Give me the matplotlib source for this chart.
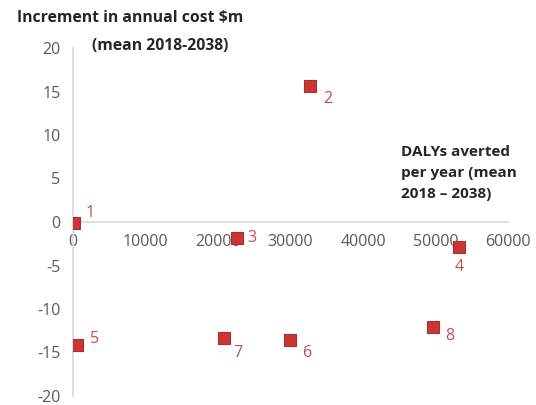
import matplotlib
matplotlib.use("Agg")
import matplotlib.pyplot as plt

# Data
labels = ["1", "2", "3", "4", "5", "6", "7", "8"]
dalys = [100, 32700, 22600, 53300, 550, 29900, 20800, 49700]
cost = [-0.1, 15.6, -1.8, -2.9, -14.1, -13.6, -13.3, -12.1]
x_ticks = [0, 10000, 20000, 30000, 40000, 50000, 60000]
y_ticks = [-20, -15, -10, -5, 0, 5, 10, 15, 20]

# label offsets in points (style only)
offsets = {"1": (12, 7), "2": (13, -9), "3": (11, 0), "4": (0, -14),
           "5": (13, 4), "6": (12, -9), "7": (10, -11), "8": (12, -6)}

plt.rcParams['font.family'] = ['Open Sans', 'DejaVu Sans']

W, H = 536, 405
fig = plt.figure(figsize=(W / 100, H / 100), dpi=100)
ax = fig.add_axes([73 / W, 1 - 396 / H, (508 - 73) / W, (396 - 48) / H])

ax.scatter(dalys, cost, marker='s', s=85, color='#cc3536', edgecolors='#a83030',
           linewidths=0.8, zorder=3)
for lab, x, y in zip(labels, dalys, cost):
    dx, dy = offsets[lab]
    ax.annotate(lab, (x, y), xytext=(dx, dy), textcoords='offset points',
                ha='center', va='center', fontsize=11.5, color='#c0504d', zorder=4)

ax.set_xlim(0, 60000)
ax.set_ylim(-20, 20)
ax.set_xticks(x_ticks)
ax.set_yticks(y_ticks)
ax.set_xticklabels([str(v) for v in x_ticks])
ax.set_yticklabels([str(v) for v in y_ticks])

for s in ['top', 'right']:
    ax.spines[s].set_visible(False)
ax.spines['bottom'].set_position(('data', 0))
ax.spines['left'].set_position(('data', 0))
for s in ['bottom', 'left']:
    ax.spines[s].set_color('#d9d9d9')
    ax.spines[s].set_linewidth(1.2)
ax.tick_params(axis='both', length=0, labelsize=11.5, colors='#595959')
ax.tick_params(axis='x', pad=9)
ax.tick_params(axis='y', pad=9)

fig.text(130 / W, 1 - 18 / H, "Increment in annual cost $m", ha='center', va='center',
         fontsize=11.3, fontweight='bold', color='#262626')
fig.text(160 / W, 1 - 46 / H, "(mean 2018-2038)", ha='center', va='center',
         fontsize=11.3, fontweight='bold', color='#262626')
fig.text(401 / W, 1 - 173 / H, "DALYs averted\nper year (mean\n2018 \u2013 2038)",
         ha='left', va='center', fontsize=11, fontweight='bold', color='#262626',
         linespacing=1.6)

fig.savefig("out.png", dpi=100)
